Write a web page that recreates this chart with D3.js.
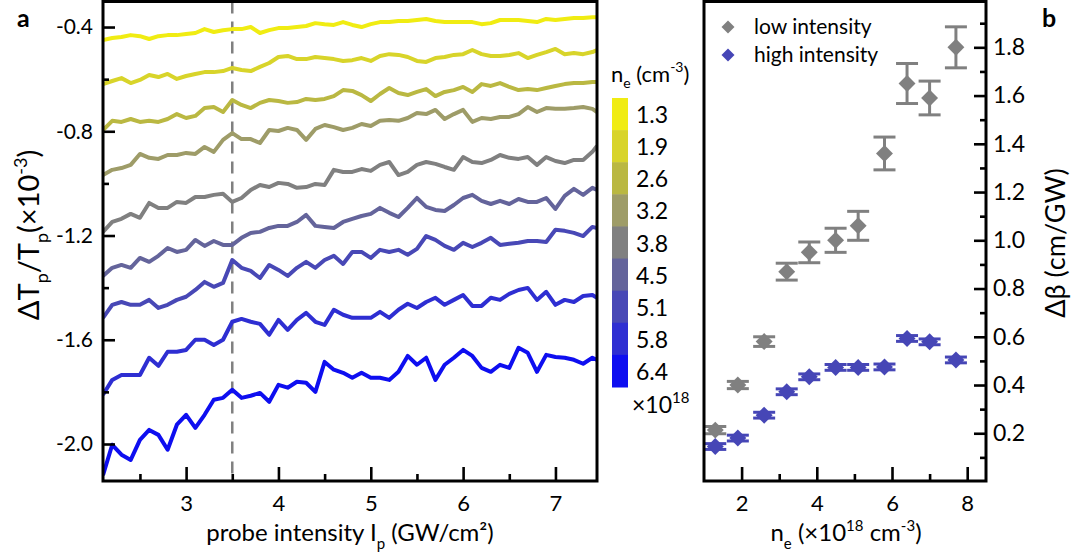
<!DOCTYPE html>
<html lang="en">
<head>
<meta charset="UTF-8">
<title>Transmission change vs probe intensity and density</title>
<style>
  body { margin: 0; background: #fff; }
  svg { font-family: Lato, "Open Sans", sans-serif; }
</style>
</head>
<body>
<svg id="chart" width="1078" height="559"></svg>
<script src="https://cdn.jsdelivr.net/npm/d3@7/dist/d3.min.js"></script>
<script>
// ---- data, panel a ----
const probeIntensity = [2.1, 2.2, 2.3, 2.4, 2.5, 2.6, 2.7, 2.8, 2.9, 3.0, 3.1, 3.2, 3.3, 3.4, 3.5, 3.6, 3.7, 3.8, 3.9, 4.0,
  4.1, 4.2, 4.3, 4.4, 4.5, 4.6, 4.7, 4.8, 4.9, 5.0, 5.1, 5.2, 5.3, 5.4, 5.5, 5.6, 5.7, 5.8, 5.9, 6.0,
  6.1, 6.2, 6.3, 6.4, 6.5, 6.6, 6.7, 6.8, 6.9, 7.0, 7.1, 7.2, 7.3, 7.4, 7.45];

const densityLabels = ["1.3", "1.9", "2.6", "3.2", "3.8", "4.5", "5.1", "5.8", "6.4"];
const densityColors = ["#f0ec12", "#d8d42a", "#bab842", "#9e9c68", "#808080", "#64649b", "#4848b6", "#2e2ed2", "#0e0ef0"];

const dT_13 = [-0.450,-0.442,-0.438,-0.431,-0.435,-0.446,-0.435,-0.431,-0.431,-0.427,-0.423,-0.408,-0.419,-0.412,-0.408,-0.408,-0.400,-0.423,-0.412,-0.404,-0.404,-0.400,-0.396,-0.385,-0.389,-0.392,-0.381,-0.392,-0.400,-0.389,-0.381,-0.381,-0.377,-0.377,-0.373,-0.369,-0.377,-0.381,-0.381,-0.381,-0.381,-0.389,-0.385,-0.373,-0.373,-0.373,-0.377,-0.381,-0.369,-0.373,-0.369,-0.365,-0.365,-0.362,-0.362];
const dT_19 = [-0.619,-0.607,-0.596,-0.615,-0.603,-0.584,-0.592,-0.580,-0.599,-0.588,-0.580,-0.573,-0.573,-0.569,-0.557,-0.565,-0.569,-0.553,-0.538,-0.515,-0.511,-0.523,-0.523,-0.515,-0.519,-0.523,-0.530,-0.527,-0.519,-0.530,-0.511,-0.504,-0.507,-0.515,-0.530,-0.534,-0.519,-0.515,-0.507,-0.504,-0.488,-0.504,-0.511,-0.511,-0.507,-0.500,-0.519,-0.507,-0.496,-0.484,-0.504,-0.500,-0.504,-0.496,-0.488];
const dT_26 = [-0.795,-0.760,-0.764,-0.753,-0.764,-0.760,-0.764,-0.753,-0.734,-0.749,-0.741,-0.711,-0.707,-0.726,-0.680,-0.699,-0.711,-0.691,-0.680,-0.684,-0.691,-0.688,-0.676,-0.680,-0.676,-0.665,-0.642,-0.645,-0.661,-0.684,-0.657,-0.634,-0.653,-0.661,-0.649,-0.638,-0.665,-0.649,-0.642,-0.630,-0.649,-0.619,-0.626,-0.615,-0.630,-0.642,-0.638,-0.642,-0.634,-0.626,-0.619,-0.615,-0.615,-0.611,-0.611];
const dT_32 = [-0.968,-0.948,-0.941,-0.929,-0.887,-0.902,-0.906,-0.891,-0.891,-0.883,-0.887,-0.860,-0.879,-0.833,-0.807,-0.830,-0.830,-0.845,-0.795,-0.799,-0.787,-0.795,-0.833,-0.791,-0.776,-0.784,-0.795,-0.787,-0.772,-0.780,-0.760,-0.757,-0.760,-0.749,-0.730,-0.734,-0.718,-0.753,-0.734,-0.718,-0.764,-0.749,-0.753,-0.745,-0.745,-0.734,-0.707,-0.726,-0.711,-0.714,-0.714,-0.711,-0.707,-0.714,-0.726];
const dT_38 = [-1.186,-1.148,-1.136,-1.117,-1.132,-1.075,-1.094,-1.094,-1.071,-1.075,-1.052,-1.052,-1.044,-1.040,-1.071,-1.056,-1.025,-1.006,-1.014,-0.998,-1.002,-1.017,-1.014,-1.002,-1.006,-0.948,-0.956,-0.956,-0.945,-0.952,-0.929,-0.918,-0.968,-0.956,-0.929,-0.918,-0.925,-0.937,-0.948,-0.899,-0.918,-0.922,-0.910,-0.891,-0.902,-0.906,-0.899,-0.929,-0.899,-0.914,-0.922,-0.910,-0.910,-0.879,-0.856];
const dT_45 = [-1.355,-1.324,-1.313,-1.324,-1.286,-1.301,-1.278,-1.248,-1.263,-1.255,-1.217,-1.240,-1.221,-1.236,-1.236,-1.209,-1.190,-1.186,-1.171,-1.163,-1.163,-1.148,-1.121,-1.163,-1.167,-1.171,-1.148,-1.136,-1.125,-1.117,-1.094,-1.113,-1.129,-1.094,-1.056,-1.090,-1.102,-1.106,-1.083,-1.056,-1.044,-1.067,-1.079,-1.067,-1.079,-1.060,-1.071,-1.071,-1.056,-1.098,-1.048,-1.021,-1.044,-1.017,-1.025];
const dT_51 = [-1.516,-1.466,-1.455,-1.466,-1.466,-1.447,-1.478,-1.466,-1.447,-1.435,-1.409,-1.378,-1.397,-1.382,-1.294,-1.324,-1.336,-1.363,-1.313,-1.332,-1.355,-1.324,-1.301,-1.324,-1.294,-1.278,-1.309,-1.263,-1.263,-1.286,-1.255,-1.263,-1.255,-1.274,-1.251,-1.202,-1.217,-1.240,-1.255,-1.228,-1.244,-1.228,-1.209,-1.236,-1.232,-1.228,-1.221,-1.221,-1.225,-1.178,-1.182,-1.190,-1.202,-1.167,-1.171];
const dT_58 = [-1.811,-1.754,-1.735,-1.735,-1.735,-1.669,-1.700,-1.646,-1.646,-1.639,-1.600,-1.600,-1.620,-1.600,-1.531,-1.520,-1.531,-1.539,-1.581,-1.524,-1.562,-1.524,-1.497,-1.531,-1.543,-1.485,-1.504,-1.516,-1.516,-1.516,-1.493,-1.516,-1.485,-1.462,-1.478,-1.455,-1.439,-1.466,-1.447,-1.428,-1.470,-1.470,-1.439,-1.447,-1.424,-1.409,-1.401,-1.447,-1.416,-1.466,-1.447,-1.455,-1.432,-1.428,-1.439];
const dT_64 = [-2.120,-2.003,-2.041,-2.061,-1.984,-1.946,-1.965,-2.022,-1.926,-1.888,-1.938,-1.888,-1.830,-1.823,-1.792,-1.823,-1.815,-1.804,-1.838,-1.773,-1.784,-1.761,-1.765,-1.800,-1.685,-1.715,-1.727,-1.746,-1.727,-1.746,-1.746,-1.754,-1.723,-1.662,-1.696,-1.669,-1.754,-1.696,-1.669,-1.639,-1.662,-1.708,-1.723,-1.696,-1.708,-1.631,-1.650,-1.723,-1.658,-1.666,-1.669,-1.677,-1.692,-1.669,-1.677];
const traces = [dT_13, dT_19, dT_26, dT_32, dT_38, dT_45, dT_51, dT_58, dT_64];

const dashedIntensity = 3.5;
const yTicksA = [-0.4, -0.8, -1.2, -1.6, -2.0];
const yMinorA = [-0.6, -1.0, -1.4, -1.8];
const xTicksA = [3, 4, 5, 6, 7];
const xMinorA = [2.5, 3.5, 4.5, 5.5, 6.5];

// ---- data, panel b ----
const neLevels = [1.3, 1.9, 2.6, 3.2, 3.8, 4.5, 5.1, 5.8, 6.4, 7.0, 7.7];
const lowBeta = [0.213, 0.40, 0.58, 0.87, 0.95, 1.00, 1.06, 1.36, 1.65, 1.59, 1.80];
const lowErr = [0.015, 0.015, 0.02, 0.035, 0.043, 0.05, 0.06, 0.068, 0.083, 0.07, 0.085];
const highBeta = [0.145, 0.18, 0.275, 0.372, 0.434, 0.473, 0.473, 0.475, 0.593, 0.579, 0.504];
const highErr = [0.012, 0.012, 0.012, 0.012, 0.012, 0.012, 0.012, 0.012, 0.012, 0.012, 0.012];
const yTicksB = [0.2, 0.4, 0.6, 0.8, 1.0, 1.2, 1.4, 1.6, 1.8];
const yMinorB = [0.1, 0.3, 0.5, 0.7, 0.9, 1.1, 1.3, 1.5, 1.7, 1.9];
const xTicksB = [2, 4, 6, 8];
const xMinorB = [3, 5, 7];

const grey = "#808080";
const blue = "#4646b6";

const svg = d3.select("#chart");

// small helper for sub/superscripts
function richText(sel, parts, small) {
    let shift = 0;
    parts.forEach((p) => {
        const target = p.sub ? p.sub : (p.sup ? -p.sup : 0);
        const ts = sel.append("tspan").attr("dy", target - shift).text(p.t);
        if (p.sub || p.sup) ts.attr("font-size", small);
        shift = target;
    });
    return sel;
}

function styleAxis(g, fontSize) {
    g.select(".domain").remove();
    g.selectAll(".tick line").attr("stroke", "#000").attr("stroke-width", 2.6);
    g.selectAll(".tick text").attr("font-size", fontSize).attr("fill", "#000")
        .attr("font-family", "Lato, sans-serif");
}

// ================= panel a =================
const xA = d3.scaleLinear().domain([2.1, 7.45]).range([103, 597]);
const yA = d3.scaleLinear().domain([-2.142, -0.302]).range([481, 1.5]);

svg.append("clipPath").attr("id", "clipA")
    .append("rect").attr("x", 103).attr("y", 1.5).attr("width", 494).attr("height", 479.5);

const gA = svg.append("g").attr("clip-path", "url(#clipA)");

gA.append("line")
    .attr("x1", xA(dashedIntensity)).attr("x2", xA(dashedIntensity))
    .attr("y1", yA.range()[1]).attr("y2", yA.range()[0])
    .attr("stroke", grey).attr("stroke-width", 2.5).attr("stroke-dasharray", "12,8");

const lineA = d3.line()
    .x((d, i) => xA(probeIntensity[i]))
    .y((d) => yA(d));

gA.selectAll("path.trace")
    .data(traces)
    .join("path")
    .classed("trace", true)
    .attr("d", lineA)
    .attr("fill", "none")
    .attr("stroke", (d, i) => densityColors[i])
    .attr("stroke-width", 4)
    .attr("stroke-linejoin", "round");

svg.append("g").attr("transform", "translate(103,0)")
    .call(d3.axisLeft(yA).tickValues(yTicksA).tickSize(-12).tickPadding(10).tickFormat((d) => d.toFixed(1)))
    .call((g) => styleAxis(g, 21));
svg.append("g").attr("transform", "translate(103,0)")
    .call(d3.axisLeft(yA).tickValues(yMinorA).tickSize(-6).tickFormat(""))
    .call((g) => styleAxis(g, 21));
svg.append("g").attr("transform", "translate(0,481)")
    .call(d3.axisBottom(xA).tickValues(xTicksA).tickSize(-14).tickPadding(14).tickFormat(d3.format("d")))
    .call((g) => styleAxis(g, 22));
svg.append("g").attr("transform", "translate(0,481)")
    .call(d3.axisBottom(xA).tickValues(xMinorA).tickSize(-7).tickFormat(""))
    .call((g) => styleAxis(g, 22));

svg.append("rect").attr("x", 103).attr("y", 1.5).attr("width", 494).attr("height", 479.5)
    .attr("fill", "none").attr("stroke", "#000").attr("stroke-width", 3);

richText(svg.append("text").attr("x", 350).attr("y", 541).attr("text-anchor", "middle").attr("font-size", 24),
    [{t: "probe intensity I"}, {t: "p", sub: 8}, {t: " (GW/cm²)"}], 15);

richText(svg.append("text").attr("transform", "translate(39,235) rotate(-90)").attr("text-anchor", "middle").attr("font-size", 29),
    [{t: "ΔT"}, {t: "p", sub: 9}, {t: "/T"}, {t: "p", sub: 9}, {t: "(×10"}, {t: "-3", sup: 12}, {t: ")"}], 18);

svg.append("text").attr("x", 17).attr("y", 27).attr("font-size", 25).attr("font-weight", "bold").text("a");

// colour bar
const band = d3.scaleBand().domain(densityLabels).range([98, 387]);
const cb = svg.append("g");
cb.selectAll("rect")
    .data(densityLabels)
    .join("rect")
    .attr("x", 612).attr("width", 16)
    .attr("y", (d) => band(d)).attr("height", band.bandwidth() + 0.5)
    .attr("fill", (d, i) => densityColors[i]);
cb.selectAll("text")
    .data(densityLabels)
    .join("text")
    .attr("x", 636).attr("y", (d) => band(d) + band.bandwidth() / 2)
    .attr("dominant-baseline", "central")
    .attr("font-size", 23)
    .text((d) => d);

richText(svg.append("text").attr("x", 611).attr("y", 82).attr("font-size", 22),
    [{t: "n"}, {t: "e", sub: 6}, {t: " (cm"}, {t: "-3", sup: 10}, {t: ")"}], 14);
richText(svg.append("text").attr("x", 632).attr("y", 413).attr("font-size", 23),
    [{t: "×10"}, {t: "18", sup: 10}], 15);

// ================= panel b =================
const xB = d3.scaleLinear().domain([1, 8.5]).range([704, 986]);
const yB = d3.scaleLinear().domain([0, 1.99]).range([481.5, 1.5]);

svg.append("g").attr("transform", "translate(986,0)")
    .call(d3.axisRight(yB).tickValues(yTicksB).tickSize(-12).tickPadding(7).tickFormat((d) => d.toFixed(1)))
    .call((g) => styleAxis(g, 23));
svg.append("g").attr("transform", "translate(986,0)")
    .call(d3.axisRight(yB).tickValues(yMinorB).tickSize(-6).tickFormat(""))
    .call((g) => styleAxis(g, 23));
svg.append("g").attr("transform", "translate(0,481)")
    .call(d3.axisBottom(xB).tickValues(xTicksB).tickSize(-14).tickPadding(14).tickFormat(d3.format("d")))
    .call((g) => styleAxis(g, 22));
svg.append("g").attr("transform", "translate(0,481)")
    .call(d3.axisBottom(xB).tickValues(xMinorB).tickSize(-7).tickFormat(""))
    .call((g) => styleAxis(g, 22));

const diamond = d3.symbol().type(d3.symbolSquare).size(144);
const capHalf = 11;

function drawSeries(values, errors, color) {
    const pts = neLevels.map((n, i) => ({n: n, v: values[i], e: errors[i]}));
    const g = svg.append("g");
    const bars = g.selectAll("g.err").data(pts).join("g").classed("err", true)
        .attr("stroke", color).attr("stroke-width", 3);
    bars.append("line")
        .attr("x1", (d) => xB(d.n)).attr("x2", (d) => xB(d.n))
        .attr("y1", (d) => yB(d.v - d.e)).attr("y2", (d) => yB(d.v + d.e));
    bars.append("line")
        .attr("x1", (d) => xB(d.n) - capHalf).attr("x2", (d) => xB(d.n) + capHalf)
        .attr("y1", (d) => yB(d.v + d.e)).attr("y2", (d) => yB(d.v + d.e));
    bars.append("line")
        .attr("x1", (d) => xB(d.n) - capHalf).attr("x2", (d) => xB(d.n) + capHalf)
        .attr("y1", (d) => yB(d.v - d.e)).attr("y2", (d) => yB(d.v - d.e));
    g.selectAll("path").data(pts).join("path")
        .attr("d", diamond)
        .attr("transform", (d) => `translate(${xB(d.n)},${yB(d.v)}) rotate(45)`)
        .attr("fill", color);
}
drawSeries(lowBeta, lowErr, grey);
drawSeries(highBeta, highErr, blue);

svg.append("rect").attr("x", 704).attr("y", 1.5).attr("width", 282).attr("height", 479.5)
    .attr("fill", "none").attr("stroke", "#000").attr("stroke-width", 3);

// legend
const legendItems = [{label: "low intensity", color: grey}, {label: "high intensity", color: blue}];
const lg = svg.append("g").selectAll("g").data(legendItems).join("g")
    .attr("transform", (d, i) => `translate(728,${27 + i * 28})`);
lg.append("path").attr("d", d3.symbol().type(d3.symbolSquare).size(85)).attr("transform", "rotate(45)")
    .attr("fill", (d) => d.color);
lg.append("text").attr("x", 26).attr("y", 7).attr("font-size", 21).text((d) => d.label);

richText(svg.append("text").attr("x", 846).attr("y", 541).attr("text-anchor", "middle").attr("font-size", 24),
    [{t: "n"}, {t: "e", sub: 8}, {t: " (×10"}, {t: "18", sup: 10}, {t: " cm"}, {t: "-3", sup: 10}, {t: ")"}], 15);

svg.append("text").attr("transform", "translate(1065,243) rotate(-90)").attr("text-anchor", "middle")
    .attr("font-size", 27).text("Δβ (cm/GW)");

svg.append("text").attr("x", 1042).attr("y", 27).attr("font-size", 25).attr("font-weight", "bold").text("b");
</script>
</body>
</html>
